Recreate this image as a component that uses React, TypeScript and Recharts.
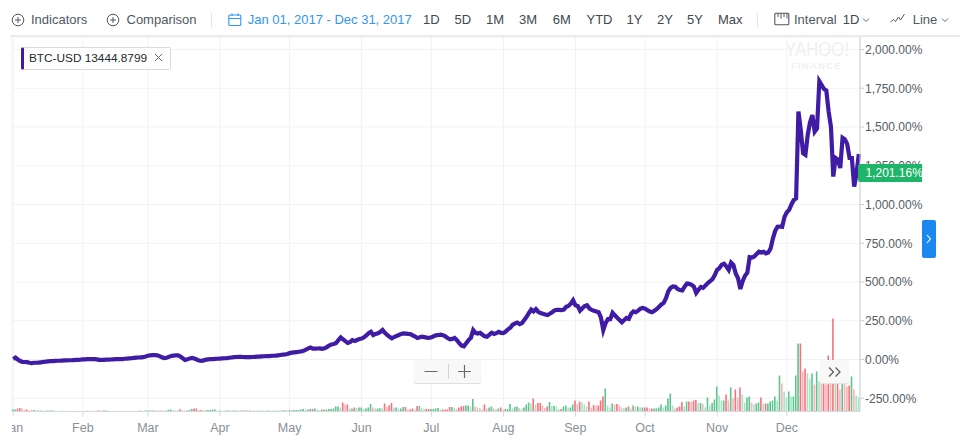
import { Bar, CartesianGrid, Cell, ComposedChart, Line, XAxis, YAxis } from "recharts";

// BTC-USD return in %, one entry per trading day
const pctJan = [3, 12, 0, -10, -15, -16, -17, -21, -23, -21, -21, -20, -19, -15, -14, -12, -11, -10, -9, -8, -8, -7, -6, -6, -5, -5, -4, -3, -2, -1, 1];
const pctFeb = [1, 2, 3, 2, 2, 1, -2, -3, -2, -1, -1, 0, 1, 2, 3, 3, 3, 5, 6, 7, 8, 10, 12, 13, 14, 15, 19, 24];
const pctMar = [27, 28, 28, 27, 22, 14, 9, 11, 17, 23, 25, 26, 26, 19, 8, -3, 1, 7, 10, 6, 0, -7, -9, -6, -1, 1, 2, 3, 4, 5, 6];
const pctApr = [7, 8, 9, 11, 13, 15, 16, 17, 17, 16, 15, 15, 15, 16, 17, 18, 19, 20, 21, 22, 22, 23, 24, 25, 27, 29, 31, 32, 36, 41];
const pctMay = [44, 46, 48, 50, 52, 56, 63, 72, 77, 70, 70, 71, 72, 69, 72, 80, 90, 97, 100, 106, 125, 142, 130, 118, 107, 112, 125, 120, 126, 132, 135];
const pctJun = [143, 155, 170, 179, 158, 165, 169, 178, 190, 172, 158, 146, 137, 145, 152, 158, 165, 169, 167, 165, 164, 156, 148, 139, 143, 147, 144, 141, 139, 143];
const pctJul = [150, 156, 158, 160, 157, 150, 138, 130, 133, 139, 125, 105, 90, 85, 105, 125, 140, 190, 172, 168, 172, 160, 150, 147, 160, 173, 165, 170, 178, 172, 170];
const pctAug = [180, 195, 205, 225, 232, 238, 228, 235, 255, 275, 300, 322, 310, 325, 308, 300, 295, 290, 287, 295, 305, 317, 320, 320, 318, 322, 340, 345, 360, 382, 350];
const pctSep = [345, 315, 330, 345, 350, 330, 320, 315, 310, 305, 270, 190, 235, 260, 260, 302, 285, 270, 255, 240, 255, 268, 262, 295, 310, 305, 315, 328, 332, 328];
const pctOct = [318, 310, 305, 315, 325, 340, 355, 365, 395, 440, 462, 472, 470, 455, 448, 445, 470, 490, 488, 482, 470, 430, 450, 468, 462, 478, 493, 505, 518, 545, 578];
const pctNov = [590, 612, 618, 600, 578, 625, 610, 555, 525, 455, 505, 540, 560, 660, 658, 665, 680, 695, 690, 695, 685, 690, 715, 780, 830, 856, 858, 856, 920, 950];
const pctDec = [965, 1000, 1029, 1040, 1600, 1480, 1330, 1320, 1450, 1530, 1577, 1470, 1490, 1795, 1770, 1745, 1735, 1600, 1500, 1180, 1300, 1290, 1235, 1430, 1420, 1390, 1300, 1300, 1115, 1200, 1325];

// traded volume, in quarter billions of USD
const volJan = [2, 2, 3, 3.5, 3, 2, 2, 1, 1, 1.5, 1, 1, 1, 0.8, 0.8, 0.8, 1, 1, 0.8, 0.6, 0.6, 0.6, 0.8, 0.5, 0.5, 0.5, 0.5, 0.5, 0.5, 0.5, 0.5];
const volFeb = [0.5, 0.8, 0.6, 0.6, 0.5, 0.8, 1, 0.8, 1, 1.2, 0.8, 0.5, 0.4, 0.5, 0.5, 0.6, 0.5, 0.5, 0.6, 0.6, 0.5, 0.6, 0.6, 0.6, 0.8, 0.6, 1, 1];
const volMar = [1, 1, 1, 0.8, 0.8, 1, 0.8, 1, 1.8, 2, 1.2, 1, 1, 2.2, 1, 0.8, 1, 1.5, 2.5, 3, 3, 1.5, 1.5, 1.2, 1.2, 1.5, 1.5, 2, 2, 1, 1];
const volApr = [0.8, 0.8, 1, 1, 0.8, 1, 1, 0.8, 1, 1, 1, 1, 1, 0.8, 0.8, 0.8, 0.8, 0.8, 0.8, 0.8, 1, 0.8, 0.8, 0.8, 0.8, 0.8, 1.2, 1.2, 1, 1.2];
const volMay = [1.2, 1.5, 1.5, 1.5, 2, 2.5, 2, 2, 2.5, 2.5, 3, 2, 1.5, 2, 2, 2, 2.5, 2.5, 3, 5, 5, 4, 9, 7, 7, 3, 3, 4, 3.5, 4, 4];
const volJun = [2.5, 3, 4, 7.5, 4, 3, 3, 3.2, 3, 8, 4.5, 6, 8.5, 4, 4, 3, 3, 4.5, 4.5, 2, 2, 3, 2, 5.5, 5.5, 3.5, 2.5, 2.5, 2.5, 2.5];
const volJul = [2.5, 3, 3.5, 2, 2, 2, 2, 4.5, 4.5, 3.5, 2.5, 4, 5, 5.5, 6, 6, 5, 12.5, 5, 4, 3.5, 2, 7, 3, 4, 5, 3, 2.5, 3, 4, 2];
const volAug = [2.5, 2.5, 7.5, 3, 4.5, 5, 3.5, 3, 4, 7, 9, 8, 13, 7, 8.5, 8.5, 6, 3.5, 5, 9.5, 5.5, 5.5, 5, 2.5, 2.5, 5, 6, 4, 4, 7, 11];
const volSep = [7.5, 10, 9, 7, 5, 10, 4, 6.5, 6, 6, 11, 15, 23, 6, 4, 8, 7, 7.5, 6, 4, 3.5, 4, 5, 3, 6, 5, 5, 4, 4, 4];
const volOct = [4, 3, 3, 3, 3, 4, 7, 4, 6, 13, 18, 6, 3, 4, 5, 9.5, 5, 10, 10, 9.5, 11, 11.5, 8.5, 8.5, 7.5, 4, 14, 6, 8.5, 12, 25];
const volNov = [16, 11, 11, 17, 11, 24, 13, 22, 14, 24, 17, 9, 14, 15, 9, 7, 8, 9, 14, 8, 8, 8, 10, 11, 15, 11, 36, 28, 20, 14];
const volDec = [20, 15, 15, 36, 68, 68, 40, 43, 38, 33, 38, 27, 40, 30, 28, 28, 27, 56, 28, 93, 30, 30, 22, 30, 28, 25, 26, 35, 22, 16, 14];

const monthLabels = ["Jan", "Feb", "Mar", "Apr", "May", "Jun", "Jul", "Aug", "Sep", "Oct", "Nov", "Dec"];
const monthDays = [0, 30, 58, 89, 119, 150, 180, 211, 242, 272, 303, 333];
const pctTicks = [-250, 0, 250, 500, 750, 1000, 1250, 1500, 1750, 2000];
const ranges = [
  ["1D", 423], ["5D", 454.5], ["1M", 486], ["3M", 519], ["6M", 552.7], ["YTD", 586.5],
  ["1Y", 626.5], ["2Y", 657], ["5Y", 687], ["Max", 718],
] as const;

const pct = [pctJan, pctFeb, pctMar, pctApr, pctMay, pctJun, pctJul, pctAug, pctSep, pctOct, pctNov, pctDec].flat();
const vol = [volJan, volFeb, volMar, volApr, volMay, volJun, volJul, volAug, volSep, volOct, volNov, volDec].flat();
const rows = pct.map((p, i) => ({ day: i, pct: p, vol: vol[i] }));

const FONT = '"Liberation Sans", Arial, sans-serif';
const GREY = "#50575e";

// up days green, down days red; paler when volume shrank from the day before
function volColor(i: number) {
  const up = i === 0 || pct[i] >= pct[i - 1];
  const grew = i === 0 || vol[i] >= vol[i - 1];
  if (up) return grew ? "#5cc48f" : "#a8e2c5";
  return grew ? "#f9717b" : "#ffb1b7";
}

function Txt({ x, y = 12, size = 13, color = GREY, weight = 400, children }: any) {
  return (
    <span style={{ position: "absolute", left: x, top: y, fontSize: size, lineHeight: "15px", color, fontWeight: weight, whiteSpace: "nowrap" }}>
      {children}
    </span>
  );
}

function Overlay({ x, y, w, h, children }: any) {
  return (
    <svg width={w} height={h} style={{ position: "absolute", left: x, top: y }} fill="none">
      {children}
    </svg>
  );
}

function PlusIcon({ x }: { x: number }) {
  return (
    <Overlay x={x} y={13} w={14} h={14}>
      <circle cx={7} cy={7} r={5.8} stroke={GREY} strokeWidth={1} />
      <path d="M4 7h6M7 4v6" stroke={GREY} strokeWidth={1} />
    </Overlay>
  );
}

function Caret({ x }: { x: number }) {
  return (
    <Overlay x={x} y={17} w={8} h={6}>
      <path d="M1 1.5l3 3 3-3" stroke={GREY} strokeWidth={0.9} />
    </Overlay>
  );
}

export default function App() {
  return (
    <div style={{ position: "absolute", left: 0, top: 0, width: 960, height: 447, background: "#fff", overflow: "hidden", fontFamily: FONT }}>
      {/* watermark sits under the chart */}
      <span style={{ position: "absolute", left: 785, top: 38, fontSize: 20, lineHeight: "22px", color: "#eff0f2", transform: "scaleX(0.84)", transformOrigin: "left" }}>YAHOO!</span>
      <span style={{ position: "absolute", left: 791, top: 60, fontSize: 9.5, lineHeight: "11px", color: "#eff0f2", fontWeight: 700, letterSpacing: 1.2 }}>FINANCE</span>

      <ComposedChart
        width={960}
        height={447}
        data={rows}
        margin={{ top: 37, right: 38, bottom: 5.5, left: 12 }}
        style={{ position: "absolute", left: 0, top: 0 }}
      >
        <CartesianGrid yAxisId="pct" stroke="#f1f2f4" strokeWidth={1} />
        <XAxis
          dataKey="day"
          type="number"
          domain={[-0.5, 364.5]}
          ticks={monthDays}
          interval={0}
          height={30}
          tickFormatter={(d: number) => monthLabels[monthDays.indexOf(d)]}
          tick={{ fill: "#8a8f96", fontSize: 12.5, fontFamily: FONT }}
          tickSize={5}
          tickMargin={7}
          stroke="#d6d8db"
        />
        <YAxis
          yAxisId="pct"
          orientation="right"
          width={62}
          domain={[-335.5, 2080.6]}
          ticks={pctTicks}
          interval={0}
          tickFormatter={(v: number) => v.toLocaleString("en-US", { minimumFractionDigits: 2 }) + "%"}
          tick={{ fill: "#555c64", fontSize: 12, fontFamily: FONT, textAnchor: "start" }}
          tickSize={4}
          tickMargin={1}
          stroke="#ccced1"
        />
        <YAxis yAxisId="vol" hide domain={[0, 374.5]} />
        <Bar yAxisId="vol" dataKey="vol" barSize={1.6} isAnimationActive={false}>
          {rows.map((r) => (
            <Cell key={r.day} fill={volColor(r.day)} />
          ))}
        </Bar>
        <Line yAxisId="pct" type="linear" dataKey="pct" stroke="#401ba6" strokeWidth={4.2} dot={false} isAnimationActive={false} />
      </ComposedChart>

      {/* "Jan" is cut off at the plot's left edge in the original */}
      <div style={{ position: "absolute", left: 0, top: 418, width: 12, height: 25, background: "#fff" }} />

      {/* toolbar */}
      <div style={{ position: "absolute", left: 10, top: 35, width: 950, height: 2, background: "#e8ebef" }} />
      <PlusIcon x={11} />
      <Txt x={31}>Indicators</Txt>
      <PlusIcon x={106} />
      <Txt x={126.5}>Comparison</Txt>
      <div style={{ position: "absolute", left: 211, top: 13, width: 1, height: 15, background: "#e4e6e9" }} />
      <Overlay x={228} y={13} w={14} h={14}>
        <rect x={0.8} y={2} width={12} height={10.5} rx={1} stroke="#2f96f3" strokeWidth={1.1} />
        <path d="M1 5.5h12M4 .5v2.5M10 .5v2.5" stroke="#2f96f3" strokeWidth={1.1} />
      </Overlay>
      <Txt x={247.7} color="#2f96f3">Jan 01, 2017 - Dec 31, 2017</Txt>
      {ranges.map(([label, x]) => (
        <Txt key={label} x={x} color="#41484f">{label}</Txt>
      ))}
      <div style={{ position: "absolute", left: 757, top: 13, width: 1, height: 15, background: "#e4e6e9" }} />
      <Overlay x={774} y={12} w={16} h={14}>
        <rect x={0.8} y={1.2} width={14} height={11.5} rx={1} stroke={GREY} strokeWidth={1.1} />
        <path d="M4 1v4M7 1v5.5M10 1v4M13 1v5.5" stroke={GREY} strokeWidth={1} />
      </Overlay>
      <Txt x={794}>Interval</Txt>
      <Txt x={842.7} color="#41484f">1D</Txt>
      <Caret x={862} />
      <Overlay x={890} y={13} w={15} h={12}>
        <path d="M.5 9l3-2.5 2 2 3-4.5 2 3 4-6" stroke={GREY} strokeWidth={1} />
      </Overlay>
      <Txt x={912.7}>Line</Txt>
      <Caret x={941} />

      {/* series tag */}
      <div style={{ position: "absolute", left: 21, top: 46.5, width: 150, height: 23, boxSizing: "border-box", background: "#fff", border: "1px solid #d8dbe0", borderLeft: "3px solid #401ba6", borderRadius: 2 }} />
      <Txt x={29} y={51} size={11.8} color="#26282b">BTC-USD 13444.8799</Txt>
      <Overlay x={154} y={53} w={9} h={9}>
        <path d="M1 1l7 7M8 1l-7 7" stroke={GREY} strokeWidth={0.9} />
      </Overlay>

      {/* last value flag */}
      <div style={{ position: "absolute", left: 858, top: 164, width: 64, height: 18, background: "#1fb568", borderRadius: "2px 0 0 2px" }} />
      <Txt x={865.5} y={166} size={12} color="#fff">1,201.16%</Txt>

      {/* side button */}
      <div style={{ position: "absolute", left: 921.5, top: 220, width: 14.5, height: 38, background: "#1a88ef", borderRadius: 2 }} />
      <Overlay x={925} y={234} w={8} h={10}>
        <path d="M2 1l3.5 4L2 9" stroke="#fff" strokeWidth={1.1} />
      </Overlay>

      {/* zoom buttons */}
      <div style={{ position: "absolute", left: 414, top: 360, width: 67, height: 23, background: "#f8f8f8", borderRadius: 2, boxShadow: "0 1px 1px #dcdcdc" }} />
      <Overlay x={414} y={360} w={67} h={23}>
        <path d="M10.5 11.5h13M44 11.5h13M50.5 5v13" stroke="#6a6a6a" strokeWidth={1.2} />
        <path d="M34.5 4v15" stroke="#d2d2d2" strokeWidth={1} />
      </Overlay>
      <div style={{ position: "absolute", left: 820, top: 359.5, width: 29, height: 23, background: "#f8f8f8", borderRadius: 2, boxShadow: "0 1px 1px #e4e4e4" }} />
      <Overlay x={820} y={359.5} w={29} h={23}>
        <path d="M9 7.5l4.5 4.5L9 16.5M15.5 7.5L20 12l-4.5 4.5" stroke="#5f5f5f" strokeWidth={1.3} />
      </Overlay>
    </div>
  );
}
